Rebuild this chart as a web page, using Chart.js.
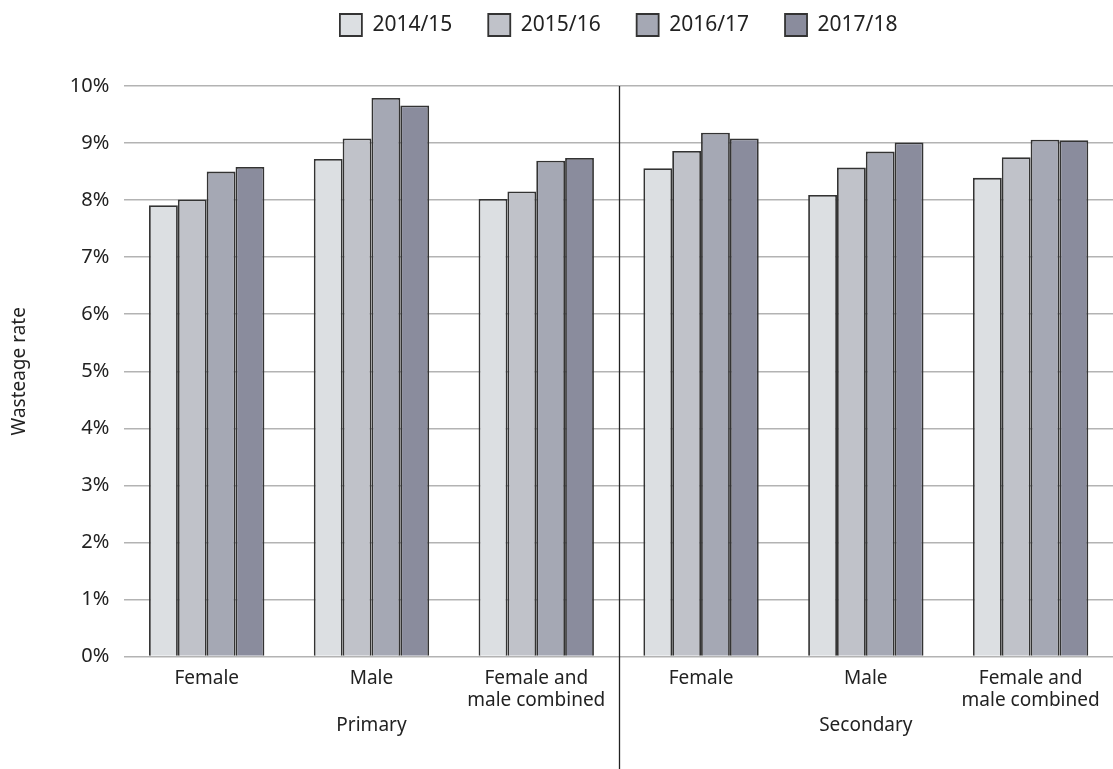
<!DOCTYPE html>
<html>
<head>
<meta charset="utf-8">
<script src="https://cdn.jsdelivr.net/npm/chart.js@4"></script>
<style>
  html, body { margin: 0; padding: 0; background: #fff; }
  #wrap { width: 1113px; height: 769px; }
</style>
</head>
<body>
<div id="wrap"><canvas id="wasteChart"></canvas></div>
<script>
// 데이터
const categories = [
    ["Female"], ["Male"], ["Female and", "male combined"],
    ["Female"], ["Male"], ["Female and", "male combined"]
];
const phases = ["Primary", "Secondary"];
const years = ["2014/15", "2015/16", "2016/17", "2017/18"];
const rate1415 = [7.91, 8.72, 8.02, 8.56, 8.09, 8.39];
const rate1516 = [8.01, 9.08, 8.15, 8.86, 8.57, 8.75];
const rate1617 = [8.50, 9.79, 8.69, 9.18, 8.85, 9.06];
const rate1718 = [8.58, 9.66, 8.74, 9.08, 9.01, 9.05];
const yTicks = [0, 1, 2, 3, 4, 5, 6, 7, 8, 9, 10];

const colors = ["#dcdfe2", "#c0c2c9", "#a5a8b4", "#8a8c9d"];
const fontFamily = "'Noto Sans', 'Open Sans', sans-serif";

// 범례: 아래 여백 추가, 그래프 영역 기준 가운데 정렬
const legendLayout = {
    id: "legendLayout",
    beforeInit(chart) {
        const fit = chart.legend.fit;
        chart.legend.fit = function () {
            fit.bind(chart.legend)();
            this.height += 40;
        };
    },
    afterLayout(chart) {
        chart.legend.left = chart.chartArea.left;
        chart.legend.right = chart.chartArea.right;
    }
};

// 초등/중등 구분선
const dividerPlugin = {
    id: "divider",
    afterDraw(chart) {
        const x = chart.scales.x;
        const y = chart.scales.y;
        const px = Math.round((x.getPixelForValue(2) + x.getPixelForValue(3)) / 2) + 0.5;
        const ctx = chart.ctx;
        ctx.save();
        ctx.strokeStyle = "#222";
        ctx.lineWidth = 1.3;
        ctx.beginPath();
        ctx.moveTo(px, y.top);
        ctx.lineTo(px, chart.height);
        ctx.stroke();
        ctx.restore();
    }
};

const series = [rate1415, rate1516, rate1617, rate1718];
const ctx = document.getElementById("wasteChart").getContext("2d");
new Chart(ctx, {
    type: "bar",
    data: {
        labels: categories,
        datasets: years.map((yr, i) => ({
            label: yr,
            data: series[i],
            backgroundColor: colors[i],
            borderColor: "#333",
            borderWidth: 1.8,
            categoryPercentage: 0.7,
            barPercentage: 1.0,
        })),
    },
    options: {
        responsive: true,
        maintainAspectRatio: false,
        animation: false,
        layout: { padding: { left: 8, right: -5, top: -22, bottom: 30 } },
        plugins: {
            legend: {
                position: "top",
                labels: {
                    boxWidth: 22,
                    boxHeight: 22,
                    padding: 36,
                    color: "#222",
                    font: { family: fontFamily, size: 21 },
                },
            },
            tooltip: { enabled: false },
        },
        scales: {
            x: {
                grid: { display: false, drawTicks: false },
                border: { display: false },
                afterFit(scale) {
                    scale.height -= 10;
                },
                ticks: {
                    color: "#222",
                    padding: 11,
                    font: { family: fontFamily, size: 19, lineHeight: 1.15 },
                },
            },
            x2: {
                type: "category",
                labels: phases,
                position: "bottom",
                offset: true,
                grid: { display: false, drawTicks: false },
                border: { display: false },
                ticks: {
                    color: "#222",
                    padding: 2,
                    font: { family: fontFamily, size: 19 },
                },
            },
            y: {
                min: 0,
                max: 10,
                afterBuildTicks(scale) {
                    scale.ticks = yTicks.map(v => ({ value: v }));
                },
                title: {
                    display: true,
                    text: "Wasteage rate",
                    color: "#222",
                    padding: { top: 0, bottom: 24 },
                    font: { family: fontFamily, size: 19 },
                },
                grid: { color: "#b3b3b3", lineWidth: 1.5, drawTicks: false },
                border: { display: false },
                ticks: {
                    color: "#222",
                    padding: 15,
                    font: { family: fontFamily, size: 20 },
                    callback: v => v + "%",
                },
            },
        },
    },
    plugins: [legendLayout, dividerPlugin],
});
</script>
</body>
</html>
